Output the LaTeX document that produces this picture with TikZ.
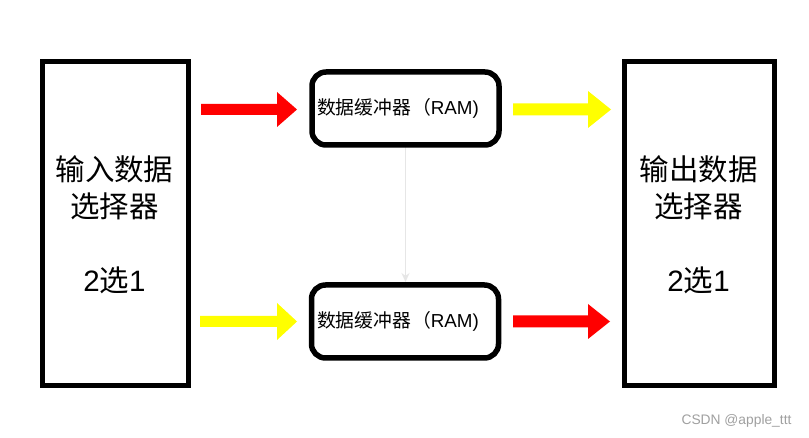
\documentclass[tikz,border=0pt]{standalone}
\usepackage{fontspec}
\setmainfont{Liberation Sans}
\newfontfamily\cjk{Noto Sans CJK SC}
\usetikzlibrary{arrows.meta}
\definecolor{arrred}{HTML}{FF0000}
\definecolor{arryel}{HTML}{FFFF00}
\definecolor{linkgray}{HTML}{E6E6E6}
\definecolor{wmgray}{HTML}{A0A0A0}
\newcommand\fatarrow[7]{% color, x0, xbase, xtip, yc, shafthalf, headhalf
  \fill[#1] (#2,#5-#6) -- (#3,#5-#6) -- (#3,#5-#7) -- (#4,#5) -- (#3,#5+#7) -- (#3,#5+#6) -- (#2,#5+#6) -- cycle;}
\begin{document}
\begin{tikzpicture}[x=1pt,y=-1pt,
  selbox/.style={draw=black,line width=5pt,fill=white,inner sep=0pt,minimum width=#1,minimum height=324pt},
  rambox/.style={draw=black,line width=5.5pt,rounded corners=14pt,fill=white,inner sep=0pt,minimum width=187pt,minimum height=73pt},
  bigtext/.style={font=\fontsize{29.5}{37}\selectfont,align=center,inner sep=0pt},
  ramtext/.style={font=\fontsize{18.8}{22}\selectfont,inner sep=0pt},
  link/.style={draw=linkgray,line width=1.2pt,-{Stealth[length=9pt,width=8pt]}}]
\useasboundingbox (0,0) rectangle (809,438);
\fill[white] (0,0) rectangle (809,438);
% gray link arrow (behind boxes)
\coordinate (ltop) at (405.5,147);
\coordinate (lbot) at (405.5,282);
\draw[link] (ltop) -- (lbot);
% selector boxes
\node[selbox=146pt] (insel) at (115.5,223.75) {};
\node[selbox=149.5pt] (outsel) at (699.25,223.5) {};
\node[bigtext] (intext) at (114.5,225) {{\cjk 输入数据}\\{\cjk 选择器}\\[37pt]2{\cjk 选}1};
\node[bigtext] (outtext) at (698.5,225) {{\cjk 输出数据}\\{\cjk 选择器}\\[37pt]2{\cjk 选}1};
% RAM boxes
\node[rambox] (ramtop) at (405.5,108.5) {};
\node[rambox] (rambot) at (405,321.5) {};
\node[ramtext] (ramtoptext) at (398,108.5) {{\cjk 数据缓冲器\kern1pt（}RAM)};
\node[ramtext] (rambottext) at (398,321.5) {{\cjk 数据缓冲器\kern1pt（}RAM)};
% fat arrows
\fatarrow{arrred}{201}{277}{297}{109.5}{5.5}{17.5}
\fatarrow{arryel}{513}{588}{611}{109.5}{6}{18.5}
\fatarrow{arryel}{200}{277}{297}{321.5}{5.5}{18.5}
\fatarrow{arrred}{513}{588}{610}{321.5}{6}{17.5}
% watermark
\node[font=\fontsize{13.8}{16}\selectfont,text=wmgray,inner sep=0pt] (wm) at (736.5,421) {CSDN @apple\_ttt};
\end{tikzpicture}
\end{document}
